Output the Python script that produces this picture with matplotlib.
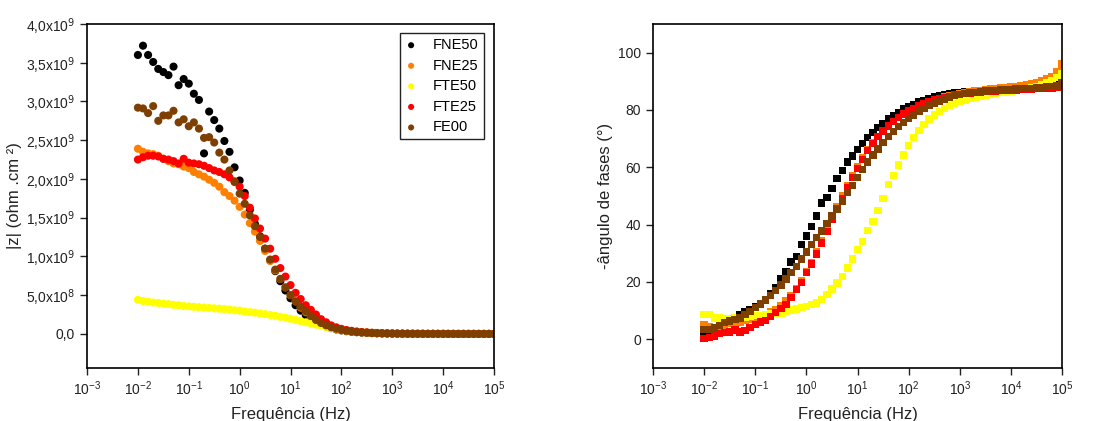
import numpy as np
import matplotlib.pyplot as plt
from matplotlib.ticker import FixedLocator, FixedFormatter, LogLocator

plt.rcParams['font.family'] = ['Liberation Sans', 'DejaVu Sans']

# frequencias: 10 pontos por decada, de 10 mHz a 100 kHz
freq = 10.0 ** (np.arange(71) / 10.0 - 2)

series = ['FNE50', 'FNE25', 'FTE50', 'FTE25', 'FE00']
colors = ['#000000', '#FF8000', '#FFFF00', '#FF0000', '#7F3F00']

# |Z| em 1e9 ohm.cm2
z_fne50 = [3.60, 3.72, 3.60, 3.51, 3.42, 3.38, 3.34, 3.45, 3.21, 3.29,
           3.23, 3.10, 3.02, 2.33, 2.87, 2.76, 2.65, 2.49, 2.35, 2.15,
           1.98, 1.82, 1.60, 1.42, 1.26, 1.10, 0.95, 0.81, 0.68, 0.56,
           0.46, 0.37, 0.30, 0.24, 0.19, 0.15, 0.12, 0.095, 0.075, 0.058,
           0.045, 0.035, 0.028, 0.022, 0.017, 0.013, 0.010, 0.008, 0.006, 0.005,
           0.004, 0.003, 0.0025, 0.002, 0.0016, 0.0013, 0.001, 0.0008, 0.0006, 0.0005,
           0.0004, 0.0003, 0.00025, 0.0002, 0.00016, 0.00013, 0.0001, 0.00008, 0.00006, 0.00005, 0.00004]
z_fne25 = [2.39, 2.35, 2.33, 2.32, 2.30, 2.26, 2.23, 2.20, 2.19, 2.16,
           2.14, 2.09, 2.06, 2.03, 1.99, 1.95, 1.90, 1.83, 1.78, 1.72,
           1.64, 1.54, 1.43, 1.32, 1.20, 1.07, 0.94, 0.82, 0.71, 0.60,
           0.50, 0.42, 0.34, 0.28, 0.22, 0.17, 0.13, 0.10, 0.08, 0.062,
           0.048, 0.038, 0.030, 0.024, 0.019, 0.015, 0.012, 0.0095, 0.0075, 0.006,
           0.0048, 0.0038, 0.003, 0.0024, 0.0019, 0.0015, 0.0012, 0.001, 0.0008, 0.0006,
           0.0005, 0.0004, 0.0003, 0.00025, 0.0002, 0.00015, 0.00012, 0.0001, 0.00008, 0.00006, 0.00005]
z_fte50 = [0.44, 0.425, 0.415, 0.405, 0.40, 0.39, 0.385, 0.375, 0.37, 0.36,
           0.355, 0.35, 0.345, 0.34, 0.335, 0.33, 0.325, 0.32, 0.315, 0.305,
           0.30, 0.29, 0.28, 0.275, 0.265, 0.255, 0.245, 0.235, 0.22, 0.21,
           0.195, 0.18, 0.165, 0.15, 0.135, 0.12, 0.105, 0.09, 0.075, 0.065,
           0.055, 0.045, 0.037, 0.030, 0.024, 0.019, 0.015, 0.012, 0.0095, 0.0075,
           0.006, 0.0048, 0.0038, 0.003, 0.0024, 0.0019, 0.0015, 0.0012, 0.001, 0.0008,
           0.0006, 0.0005, 0.0004, 0.0003, 0.00025, 0.0002, 0.00015, 0.00012, 0.0001, 0.00008, 0.00006]
z_fte25 = [2.25, 2.28, 2.30, 2.30, 2.29, 2.26, 2.25, 2.23, 2.20, 2.26,
           2.21, 2.20, 2.19, 2.17, 2.14, 2.11, 2.09, 2.06, 2.02, 1.97,
           1.90, 1.78, 1.63, 1.49, 1.36, 1.23, 1.10, 0.97, 0.85, 0.74,
           0.63, 0.53, 0.45, 0.37, 0.31, 0.25, 0.19, 0.15, 0.11, 0.085,
           0.065, 0.050, 0.040, 0.031, 0.025, 0.020, 0.015, 0.012, 0.0095, 0.0075,
           0.006, 0.0048, 0.0038, 0.003, 0.0024, 0.0019, 0.0015, 0.0012, 0.001, 0.0008,
           0.0006, 0.0005, 0.0004, 0.0003, 0.00025, 0.0002, 0.00015, 0.00012, 0.0001, 0.00008, 0.00006]
z_fe00 = [2.92, 2.91, 2.85, 2.94, 2.75, 2.82, 2.82, 2.88, 2.73, 2.77,
          2.68, 2.73, 2.65, 2.53, 2.54, 2.47, 2.34, 2.25, 2.11, 1.96,
          1.81, 1.68, 1.53, 1.39, 1.25, 1.10, 0.96, 0.83, 0.71, 0.60,
          0.50, 0.42, 0.35, 0.29, 0.23, 0.18, 0.14, 0.11, 0.085, 0.066,
          0.052, 0.041, 0.032, 0.025, 0.020, 0.016, 0.012, 0.0095, 0.0075, 0.006,
          0.0048, 0.0038, 0.003, 0.0024, 0.0019, 0.0015, 0.0012, 0.001, 0.0008, 0.0006,
          0.0005, 0.0004, 0.0003, 0.00025, 0.0002, 0.00015, 0.00012, 0.0001, 0.00008, 0.00006, 0.00005]

# -angulo de fase (graus)
p_fne50 = [2.0, 3.0, 3.5, 4.5, 5.5, 6.5, 7.5, 8.5, 9.5, 10.5,
           11.5, 12.5, 14.0, 16.0, 18.0, 21.0, 23.5, 27.0, 29.0, 33.0,
           36.0, 39.4, 43.0, 47.5, 49.5, 52.7, 56.0, 58.9, 61.8, 64.0,
           66.2, 68.4, 70.3, 72.2, 73.8, 75.3, 76.8, 78.0, 79.1, 80.3,
           81.1, 82.0, 82.8, 83.4, 84.0, 84.5, 84.9, 85.3, 85.6, 85.9,
           86.1, 86.3, 86.5, 86.7, 86.9, 87.0, 87.2, 87.3, 87.5, 87.6,
           87.8, 88.0, 88.2, 88.4, 88.6, 88.9, 89.2, 89.6, 90.1, 90.8, 92.5]
p_fne25 = [5.0, 4.5, 4.0, 4.5, 5.0, 5.5, 5.5, 6.0, 6.5, 7.0,
           7.5, 8.0, 8.5, 9.5, 10.5, 11.8, 13.5, 15.3, 17.8, 20.5,
           23.5, 26.8, 30.5, 34.5, 38.5, 42.5, 46.3, 50.0, 53.5, 57.0,
           60.2, 63.2, 66.0, 68.5, 70.8, 72.8, 74.5, 76.0, 77.4, 78.6,
           79.7, 80.6, 81.4, 82.2, 82.9, 83.5, 84.0, 84.5, 84.9, 85.3,
           85.6, 86.0, 86.3, 86.6, 86.9, 87.1, 87.3, 87.5, 87.7, 87.9,
           88.1, 88.3, 88.6, 88.9, 89.2, 89.6, 90.1, 90.8, 91.7, 93.5, 96.0]
p_fte50 = [8.7, 8.7, 7.5, 7.4, 7.3, 7.2, 7.4, 7.6, 7.8, 8.0,
           8.2, 8.4, 8.6, 8.8, 9.0, 9.2, 9.6, 10.2, 10.6, 11.0,
           11.4, 12.2, 12.7, 13.9, 15.6, 17.6, 19.7, 22.0, 24.9, 28.0,
           31.3, 34.2, 38.0, 41.1, 45.0, 49.2, 53.9, 57.1, 60.8, 64.3,
           67.6, 70.5, 72.8, 75.0, 76.8, 78.2, 79.4, 80.5, 81.5, 82.3,
           82.9, 83.5, 84.0, 84.4, 84.8, 85.1, 85.4, 85.7, 86.0, 86.2,
           86.5, 86.8, 87.1, 87.4, 87.8, 88.3, 88.8, 89.5, 90.3, 91.3, 92.5]
p_fte25 = [0.2, 0.6, 1.2, 2.0, 2.3, 2.5, 3.2, 2.5, 3.1, 4.1,
           5.2, 6.0, 6.6, 7.9, 9.3, 10.7, 12.2, 14.7, 17.4, 19.9,
           23.2, 26.3, 29.8, 33.6, 37.7, 41.7, 45.4, 49.2, 53.0, 56.4,
           59.7, 62.8, 65.8, 68.2, 70.7, 72.7, 74.4, 75.9, 77.4, 78.6,
           79.6, 80.6, 81.4, 82.3, 82.9, 83.5, 83.9, 84.4, 84.8, 85.2,
           85.5, 85.7, 85.9, 86.1, 86.3, 86.4, 86.5, 86.6, 86.7, 86.8,
           86.9, 87.0, 87.1, 87.2, 87.3, 87.4, 87.5, 87.6, 87.7, 88.0, 88.3]
p_fe00 = [3.5, 3.5, 4.0, 4.9, 5.8, 6.4, 7.0, 7.5, 8.7, 9.8,
          11.0, 12.3, 13.7, 15.2, 17.0, 19.0, 21.0, 23.2, 25.5, 28.0,
          30.5, 33.0, 35.5, 37.8, 40.5, 43.0, 45.5, 48.3, 51.2, 53.6,
          56.4, 59.3, 61.8, 64.3, 66.4, 68.6, 70.7, 72.4, 74.2, 75.7,
          77.1, 78.2, 79.4, 80.5, 81.6, 82.3, 83.1, 83.8, 84.4, 85.0,
          85.4, 85.7, 86.0, 86.2, 86.4, 86.6, 86.8, 86.9, 87.0, 87.1,
          87.2, 87.3, 87.4, 87.5, 87.6, 87.7, 87.9, 88.1, 88.3, 88.6, 89.5]

z_data = [z_fne50, z_fne25, z_fte50, z_fte25, z_fe00]
p_data = [p_fne50, p_fne25, p_fte50, p_fte25, p_fe00]

z_ticks = [0, 0.5e9, 1.0e9, 1.5e9, 2.0e9, 2.5e9, 3.0e9, 3.5e9, 4.0e9]
z_ticklabels = ['0,0', '5,0x10$^{8}$', '1,0x10$^{9}$', '1,5x10$^{9}$', '2,0x10$^{9}$',
                '2,5x10$^{9}$', '3,0x10$^{9}$', '3,5x10$^{9}$', '4,0x10$^{9}$']

fig = plt.figure(figsize=(10.99, 4.21), dpi=100)
ax1 = fig.add_axes([0.0792, 0.1259, 0.3703, 0.8171])
ax2 = fig.add_axes([0.5942, 0.1259, 0.3722, 0.8171])

for name, col, z in zip(series, colors, z_data):
    ax1.scatter(freq, np.array(z) * 1e9, s=34, marker='o', color=col,
                edgecolors='none', label=name)
for name, col, p in zip(series, colors, p_data):
    ax2.scatter(freq, p, s=28, marker='s', color=col, edgecolors='none', label=name)

for ax in (ax1, ax2):
    ax.set_xscale('log')
    ax.set_xlim(1e-3, 1e5)
    ax.xaxis.set_major_locator(LogLocator(base=10, numticks=20))
    ax.xaxis.set_minor_locator(FixedLocator([]))
    ax.tick_params(direction='out', length=5, width=1, labelsize=10,
                   colors='#222222', top=False, right=False)
    for sp in ax.spines.values():
        sp.set_linewidth(1.2)
    ax.set_xlabel('Frequência (Hz)', fontsize=12, labelpad=6, color='#222222')

ax1.set_ylim(-0.44e9, 4.0e9)
ax1.yaxis.set_major_locator(FixedLocator(z_ticks))
ax1.yaxis.set_major_formatter(FixedFormatter(z_ticklabels))
ax1.set_ylabel('|z| (ohm .cm ²)', fontsize=12, labelpad=3, color='#222222')

ax2.set_ylim(-10, 110)
ax2.set_yticks([0, 20, 40, 60, 80, 100])
ax2.set_ylabel('-ângulo de fases (°)', fontsize=12, labelpad=4, color='#222222')

leg = ax1.legend(loc='upper right', bbox_to_anchor=(0.975, 0.974), borderaxespad=0,
                 fontsize=10.5, frameon=True, fancybox=False, framealpha=1,
                 edgecolor='#222222', handlelength=0.8, handletextpad=1.1,
                 borderpad=0.35, labelspacing=0.45, markerscale=0.75)
leg.get_frame().set_linewidth(1.0)

fig.savefig('out.png', dpi=100)
